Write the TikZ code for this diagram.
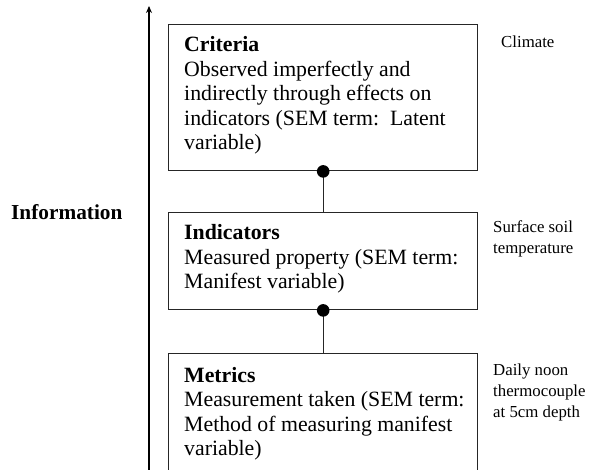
\documentclass[tikz,border=0pt]{standalone}
\usepackage{fontspec}
\setmainfont{Liberation Serif}
\usetikzlibrary{arrows.meta}
\begin{document}
\begin{tikzpicture}[x=1pt,y=-1pt,
  box/.style={draw=black!85, line width=1.4pt, rectangle, inner sep=0pt, anchor=north west},
  boxtext/.style={anchor=base west, align=left, inner sep=0pt, font={\fontsize{21.8}{24.5}\selectfont}},
  sidetext/.style={anchor=base west, align=left, inner sep=0pt, font={\fontsize{16.8}{21}\selectfont}},
  conn/.style={draw=black!85, line width=1.3pt},
  dot/.style={fill=black}
]
\useasboundingbox (0,0) rectangle (589,470);
% axis
\coordinate (axb) at (149,471);
\coordinate (axt) at (149,6);
\draw[line width=1.2pt, -{Stealth[length=7pt,width=6pt]}] (axb) -- (axt);
\node[anchor=base west, inner sep=0pt, font={\fontsize{21.3}{24}\selectfont\bfseries}] (info) at (11,220) {Information};
% boxes
\node[box, minimum width=309pt, minimum height=146pt] (crit) at (168,24) {};
\node[box, minimum width=309pt, minimum height=97pt] (ind) at (168,212) {};
\node[box, minimum width=309pt, minimum height=117pt] (met) at (168,353) {};
% texts (anchored at the baseline of the last line)
\node[boxtext] (critT) at (184,150) {\textbf{Criteria}\\Observed imperfectly and\\indirectly through effects on\\indicators (SEM term:\ \ Latent\\variable)};
\node[boxtext] (indT) at (184,289) {\textbf{Indicators}\\Measured property (SEM term:\\Manifest variable)};
\node[boxtext] (metT) at (184,455.5) {\textbf{Metrics}\\Measurement taken (SEM term:\\Method of measuring manifest\\variable)};
% side labels
\node[sidetext] (clim) at (501,48) {Climate};
\node[sidetext] (surf) at (493,254) {Surface soil\\temperature};
\node[sidetext] (daily) at (493,417) {Daily noon\\thermocouple\\at 5cm depth};
% connectors
\draw[conn] (crit.south) -- (ind.north);
\draw[conn] (ind.south) -- (met.north);
\fill[dot] (crit.south) circle (6.3pt);
\fill[dot] (ind.south) circle (6.3pt);
\end{tikzpicture}
\end{document}
